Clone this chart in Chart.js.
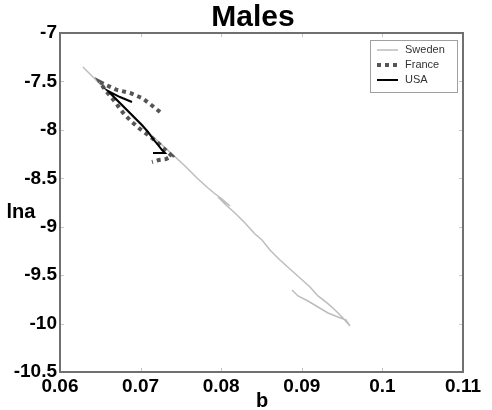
<!DOCTYPE html>
<html>
<head>
<meta charset="utf-8">
<script src="https://cdn.jsdelivr.net/npm/chart.js@4"></script>
<style>
  body { margin: 0; background: #fff; }
  #wrap { width: 492px; height: 410px; }
</style>
</head>
<body>
<div id="wrap"><canvas id="males-chart" width="492" height="410"></canvas></div>
<script>
// b (x) and ln a (y), in time order
var sweden_b = [0.06285, 0.06434, 0.06596, 0.06769, 0.06930, 0.07092, 0.07241, 0.07389, 0.07551, 0.07700,
                0.07836, 0.07911, 0.08010, 0.08109, 0.07960, 0.08059, 0.08171, 0.08295, 0.08419, 0.08506,
                0.08605, 0.08729, 0.08853, 0.08978, 0.09102, 0.09201, 0.09313, 0.09412, 0.09511, 0.09598,
                0.09548, 0.09449, 0.09325, 0.09201, 0.09077, 0.08953, 0.08878];
var sweden_lna = [-7.351, -7.475, -7.609, -7.754, -7.888, -8.022, -8.136, -8.249, -8.373, -8.497,
                  -8.600, -8.652, -8.714, -8.786, -8.693, -8.776, -8.858, -8.962, -9.075, -9.137,
                  -9.240, -9.344, -9.436, -9.529, -9.622, -9.715, -9.787, -9.860, -9.942, -10.025,
                  -9.963, -9.932, -9.891, -9.829, -9.767, -9.715, -9.653];

var france_b = [0.07241, 0.07117, 0.07017, 0.06868, 0.06707, 0.06571, 0.06496, 0.06558, 0.06645, 0.06720,
                0.06794, 0.06893, 0.06993, 0.07092, 0.07191, 0.07266, 0.07340, 0.07389, 0.07315, 0.07228, 0.07141];
var france_lna = [-7.816, -7.733, -7.671, -7.619, -7.588, -7.537, -7.506, -7.588, -7.671, -7.754,
                  -7.836, -7.919, -7.991, -8.053, -8.115, -8.177, -8.229, -8.270, -8.301, -8.311, -8.332];

var usa_b = [0.06893, 0.06744, 0.06596, 0.06670, 0.06757, 0.06844, 0.06930, 0.07017, 0.07092, 0.07154,
             0.07216, 0.07266, 0.07303, 0.07154];
var usa_lna = [-7.712, -7.661, -7.599, -7.661, -7.733, -7.805, -7.878, -7.950, -8.022, -8.094,
               -8.156, -8.208, -8.239, -8.239];

var series_names = ['Sweden', 'France', 'USA'];
var x_min = 0.06, x_max = 0.11, x_step = 0.01;
var y_min = -10.5, y_max = -7, y_step = 0.5;

var FONT = "'Liberation Sans', Arial, Helvetica, sans-serif";

function to_points(xs, ys) {
    var pts = [];
    for (var i = 0; i < xs.length; i++) {
        pts.push({x: xs[i], y: ys[i]});
    }
    return pts;
}

// frame, inner ticks, title, axis labels and the legend box
var decorations = {
    id: 'decorations',
    afterDraw: function (chart) {
        var ctx = chart.ctx;
        var a = chart.chartArea;
        var xs = chart.scales.x, ys = chart.scales.y;
        ctx.save();

        ctx.strokeStyle = '#c8c8c8';
        ctx.lineWidth = 1;
        xs.ticks.forEach(function (t) {
            var px = Math.round(xs.getPixelForValue(t.value)) + 0.5;
            ctx.beginPath();
            ctx.moveTo(px, a.bottom); ctx.lineTo(px, a.bottom - 4);
            ctx.moveTo(px, a.top); ctx.lineTo(px, a.top + 4);
            ctx.stroke();
        });
        ys.ticks.forEach(function (t) {
            var py = Math.round(ys.getPixelForValue(t.value)) + 0.5;
            ctx.beginPath();
            ctx.moveTo(a.left, py); ctx.lineTo(a.left + 4, py);
            ctx.moveTo(a.right, py); ctx.lineTo(a.right - 4, py);
            ctx.stroke();
        });

        ctx.strokeStyle = '#707070';
        ctx.lineWidth = 2;
        ctx.strokeRect(a.left, a.top, a.right - a.left, a.bottom - a.top);

        ctx.fillStyle = '#000';
        ctx.textAlign = 'center';
        ctx.textBaseline = 'middle';
        ctx.font = 'bold 30px ' + FONT;
        ctx.fillText('Males', 253, 18);
        ctx.font = 'bold 20px ' + FONT;
        ctx.fillText('b', 262, 401);
        ctx.fillText('lna', 21, 212);

        // legend
        var lx = 370, ly = 40, lw = 87, lh = 52;
        ctx.fillStyle = '#fff';
        ctx.fillRect(lx, ly, lw, lh);
        ctx.strokeStyle = '#a0a0a0';
        ctx.lineWidth = 1;
        ctx.strokeRect(lx + 0.5, ly + 0.5, lw, lh);
        var rows = [50, 65, 80];
        ctx.font = '11px ' + FONT;
        ctx.textAlign = 'left';
        chart.data.datasets.forEach(function (ds, i) {
            ctx.strokeStyle = ds.borderColor;
            ctx.lineWidth = ds.borderWidth;
            ctx.setLineDash(ds.borderDash || []);
            ctx.beginPath();
            ctx.moveTo(377, rows[i]);
            ctx.lineTo(398, rows[i]);
            ctx.stroke();
            ctx.setLineDash([]);
            ctx.fillStyle = '#333';
            ctx.fillText(ds.label, 405, rows[i]);
        });
        ctx.restore();
    }
};

var config = {
    type: 'scatter',
    data: {
        datasets: [{
            label: series_names[0],
            data: to_points(sweden_b, sweden_lna),
            showLine: true,
            borderColor: '#bdbdbd',
            borderWidth: 1.5,
            pointRadius: 0,
            order: 3
        }, {
            label: series_names[1],
            data: to_points(france_b, france_lna),
            showLine: true,
            borderColor: '#555555',
            borderWidth: 4,
            borderDash: [4, 4],
            pointRadius: 0,
            order: 2
        }, {
            label: series_names[2],
            data: to_points(usa_b, usa_lna),
            showLine: true,
            borderColor: '#000000',
            borderWidth: 2,
            pointRadius: 0,
            order: 1
        }]
    },
    options: {
        responsive: false,
        animation: false,
        layout: { padding: { left: 0, right: 29, top: 33, bottom: 0 } },
        plugins: {
            legend: { display: false },
            title: { display: false },
            tooltip: { enabled: false }
        },
        scales: {
            x: {
                type: 'linear',
                min: x_min,
                max: x_max,
                grid: { display: false, drawTicks: false },
                border: { display: false },
                ticks: {
                    stepSize: x_step,
                    padding: 3,
                    color: '#000',
                    font: { family: FONT, size: 19, weight: 'bold' },
                    maxRotation: 0,
                    callback: function (v) { return String(+v.toFixed(2)); }
                },
                afterFit: function (s) { s.height = 38; }
            },
            y: {
                type: 'linear',
                min: y_min,
                max: y_max,
                grid: { display: false, drawTicks: false },
                border: { display: false },
                ticks: {
                    stepSize: y_step,
                    padding: 3,
                    color: '#000',
                    font: { family: FONT, size: 19, weight: 'bold' },
                    callback: function (v) { return String(+v.toFixed(1)); }
                },
                afterFit: function (s) { s.width = 60; }
            }
        }
    },
    plugins: [decorations]
};

var males_chart = new Chart(document.getElementById('males-chart').getContext('2d'), config);
</script>
</body>
</html>
